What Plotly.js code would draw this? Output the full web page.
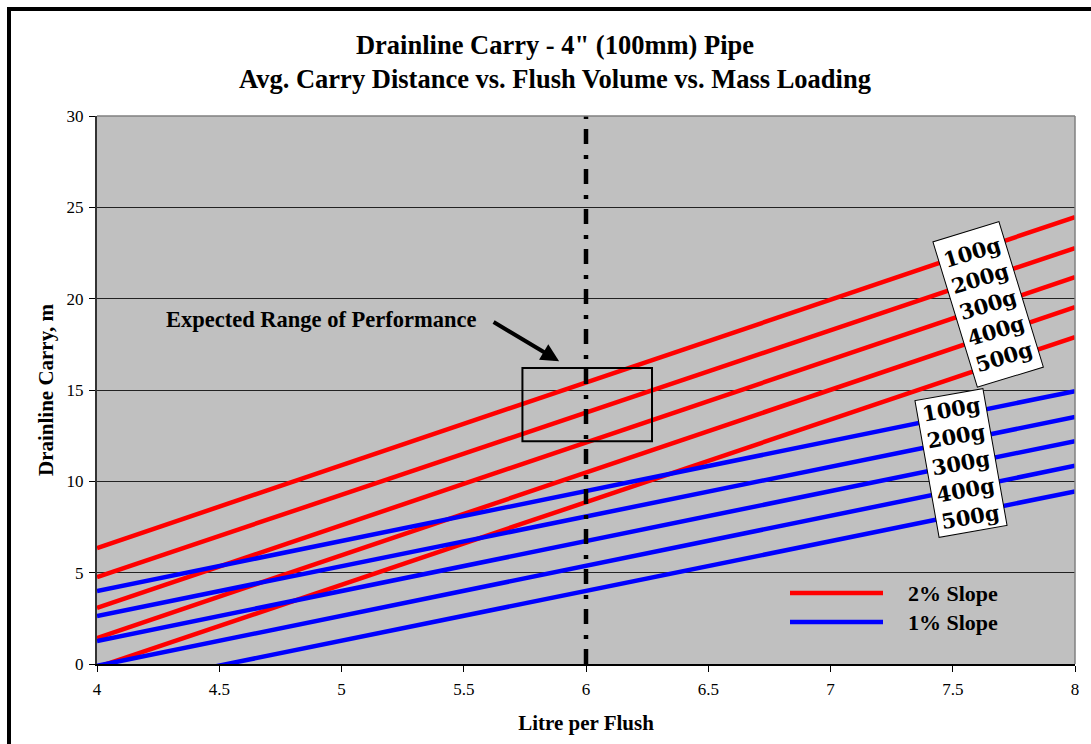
<!DOCTYPE html>
<html>
<head>
<meta charset="utf-8">
<script src="https://cdn.plot.ly/plotly-3.0.1.min.js"></script>
<style>
  html, body { margin: 0; padding: 0; background: #fff; overflow: hidden; }
  #chart { width: 1091px; height: 744px; position: absolute; left: 0; top: 0; }
  #frame { position: absolute; left: 7px; top: 7px; width: 1200px; height: 900px;
           border-left: 4px solid #000; border-top: 4px solid #000; pointer-events: none; z-index: 5; }
</style>
</head>
<body>
<div id="chart"></div>
<div id="frame"></div>
<script>
// ---- data ----
const litresPerFlush = [4, 8];

// 2% slope – carry distance (m) at 4 and 8 L/flush
const carry2pct_100g = [6.35, 24.47];
const carry2pct_200g = [4.76, 22.77];
const carry2pct_300g = [3.07, 21.18];
const carry2pct_400g = [1.42, 19.54];
const carry2pct_500g = [-0.18, 17.90];

// 1% slope – carry distance (m) at 4 and 8 L/flush
const carry1pct_100g = [4.00, 14.94];
const carry1pct_200g = [2.63, 13.52];
const carry1pct_300g = [1.26, 12.20];
const carry1pct_400g = [-0.10, 10.85];
const carry1pct_500g = [-1.45, 9.45];

const massLabels = ['100g', '200g', '300g', '400g', '500g'];
const seriesNames = ['2% Slope', '1% Slope'];

// reference flush volume line and expected range box
const referenceFlush = [6, 6];
const referenceSpan = [0, 30];
const expectedRangeX = [5.74, 6.27];
const expectedRangeY = [12.2, 16.2];

const xTickVals = [4, 4.5, 5, 5.5, 6, 6.5, 7, 7.5, 8];
const xTickText = ['4', '4.5', '5', '5.5', '6', '6.5', '7', '7.5', '8'];
const yTickVals = [0, 5, 10, 15, 20, 25, 30];
const yTickText = ['0', '5', '10', '15', '20', '25', '30'];

// ---- build ----
const RED = '#FF0000', BLUE = '#0000FF';
const redSets = [carry2pct_100g, carry2pct_200g, carry2pct_300g, carry2pct_400g, carry2pct_500g];
const blueSets = [carry1pct_100g, carry1pct_200g, carry1pct_300g, carry1pct_400g, carry1pct_500g];

const traces = [];
redSets.forEach((ys, i) => traces.push({
  x: litresPerFlush, y: ys, type: 'scatter', mode: 'lines',
  name: seriesNames[0] + ' ' + massLabels[i], showlegend: false,
  line: { color: RED, width: 4.5 }, hoverinfo: 'x+y+name'
}));
blueSets.forEach((ys, i) => traces.push({
  x: litresPerFlush, y: ys, type: 'scatter', mode: 'lines',
  name: seriesNames[1] + ' ' + massLabels[i], showlegend: false,
  line: { color: BLUE, width: 4.5 }, hoverinfo: 'x+y+name'
}));
traces.push({
  x: referenceFlush, y: referenceSpan, type: 'scatter', mode: 'lines',
  name: '6 L/flush', showlegend: false,
  line: { color: '#000', width: 4.5, dash: '15px,10px,4px,11px' }, hoverinfo: 'skip'
});

const serif = 'Liberation Serif, Times New Roman, serif';
const boxFont = { family: 'DejaVu Serif, serif', size: 21, color: '#000', weight: 'bold' };

// pixel helpers for paper coords of the decorative legend
const PL = 97, PW = 978, PB = 664, PH = 548;
const px = v => (v - PL) / PW;
const py = v => (PB - v) / PH;

const layout = {
  width: 1091, height: 744,
  margin: { l: 97, r: 16, t: 116, b: 80 },
  paper_bgcolor: '#fff',
  plot_bgcolor: '#C0C0C0',
  showlegend: false,
  font: { family: serif, color: '#000' },
  title: {
    text: 'Drainline Carry - 4" (100mm) Pipe<br>Avg. Carry Distance vs. Flush Volume vs. Mass Loading',
    font: { family: serif, size: 26.5, weight: 'bold', color: '#000' },
    xref: 'container', yref: 'container',
    x: 555 / 1091, xanchor: 'center',
    y: 1 - 54 / 744, yanchor: 'middle'
  },
  xaxis: {
    range: [4, 8], tickmode: 'array', tickvals: xTickVals, ticktext: xTickText,
    ticks: 'outside', ticklen: 6, tickwidth: 1, tickcolor: '#000',
    ticklabelstandoff: 3,
    showline: true, linecolor: '#000', linewidth: 2,
    showgrid: false, zeroline: false,
    tickfont: { family: serif, size: 17, color: '#000' },
    title: { text: 'Litre per Flush', font: { family: serif, size: 21, weight: 'bold', color: '#000' }, standoff: 17 },
    fixedrange: true
  },
  yaxis: {
    range: [0, 30], tickmode: 'array', tickvals: yTickVals, ticktext: yTickText,
    ticks: 'outside', ticklen: 6, tickwidth: 1, tickcolor: '#000',
    ticklabelstandoff: 2,
    showline: true, linecolor: '#333', linewidth: 2,
    showgrid: true, gridcolor: '#222', gridwidth: 1, zeroline: false,
    tickfont: { family: serif, size: 17, color: '#000' },
    title: { text: 'Drainline Carry, m', font: { family: serif, size: 21, weight: 'bold', color: '#000' }, standoff: 7 },
    fixedrange: true
  },
  shapes: [
    // plot-area outline (top and right in grey)
    { type: 'line', xref: 'paper', yref: 'paper', x0: 0, x1: 1, y0: 1, y1: 1, line: { color: '#808080', width: 1.5 } },
    { type: 'line', xref: 'paper', yref: 'paper', x0: 1, x1: 1, y0: 0, y1: 1, line: { color: '#808080', width: 1.5 } },
    // expected range box
    { type: 'rect', xref: 'x', yref: 'y', x0: expectedRangeX[0], x1: expectedRangeX[1],
      y0: expectedRangeY[0], y1: expectedRangeY[1], line: { color: '#000', width: 2 } },
    // legend sample lines
    { type: 'line', xref: 'paper', yref: 'paper', x0: px(790), x1: px(883), y0: py(593), y1: py(593), line: { color: RED, width: 4.5 } },
    { type: 'line', xref: 'paper', yref: 'paper', x0: px(790), x1: px(883), y0: py(622), y1: py(622), line: { color: BLUE, width: 4.5 } }
  ],
  annotations: [
    { xref: 'paper', yref: 'paper', x: px(906), y: py(593), xanchor: 'left', yanchor: 'middle',
      text: seriesNames[0], showarrow: false, font: { family: serif, size: 22, weight: 'bold', color: '#000' } },
    { xref: 'paper', yref: 'paper', x: px(906), y: py(622), xanchor: 'left', yanchor: 'middle',
      text: seriesNames[1], showarrow: false, font: { family: serif, size: 22, weight: 'bold', color: '#000' } },
    { xref: 'paper', yref: 'paper', x: px(321.5), y: py(319), xanchor: 'center', yanchor: 'middle',
      text: 'Expected Range of Performance', showarrow: false,
      font: { family: serif, size: 22.5, weight: 'bold', color: '#000' } },
    { xref: 'x', yref: 'y', x: 5.89, y: 16.58, text: '', showarrow: true,
      ax: -67, ay: -40, arrowhead: 2, arrowsize: 0.9, arrowwidth: 4, arrowcolor: '#000', standoff: 0 },
    { xref: 'paper', yref: 'paper', x: px(988), y: py(304), xanchor: 'center', yanchor: 'middle',
      text: massLabels.join('<br>'), showarrow: false, textangle: -17,
      bgcolor: '#fff', bordercolor: '#000', borderwidth: 1, borderpad: 2,
      width: 64, height: 147, font: boxFont },
    { xref: 'paper', yref: 'paper', x: px(961), y: py(463), xanchor: 'center', yanchor: 'middle',
      text: massLabels.join('<br>'), showarrow: false, textangle: -10,
      bgcolor: '#fff', bordercolor: '#000', borderwidth: 1, borderpad: 2,
      width: 64, height: 134, font: boxFont }
  ]
};

Plotly.newPlot('chart', traces, layout, { displayModeBar: false, staticPlot: true });
</script>
</body>
</html>
